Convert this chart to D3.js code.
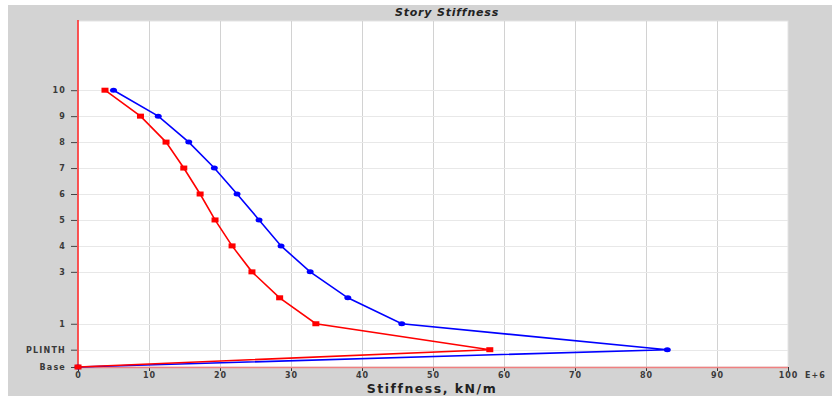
<!DOCTYPE html>
<html><head><meta charset="utf-8">
<script src="https://cdn.jsdelivr.net/npm/d3@7"></script>
<style>body{margin:0;background:#fff;}svg{display:block;}</style>
</head><body>
<svg id="c" width="832" height="396"></svg>
<script>
const levels = ["Base","PLINTH","1","2","3","4","5","6","7","8","9","10"];
const elevations = [0,2,5,8,11,14,17,20,23,26,29,32];
const tickLevels = ["Base","PLINTH","1","3","4","5","6","7","8","9","10"];
const redValues  = [0,58.0,33.5,28.4,24.5,21.7,19.3,17.2,14.9,12.4,8.8,3.8];
const blueValues = [0,83.0,45.6,38.0,32.7,28.6,25.5,22.4,19.2,15.6,11.3,5.0];
const xTicks = [0,10,20,30,40,50,60,70,80,90,100];

const FONT = "DejaVu Sans, Verdana, sans-serif";
const svg = d3.select("#c");
svg.append("rect").attr("x",8).attr("y",5).attr("width",824).attr("height",391).attr("fill","#d3d3d3");

const L=78,R=788,T=21,B=367;
const x = d3.scaleLinear().domain([0,100]).range([L,R]);
const y = d3.scaleLinear().domain([0,40]).range([B,T]);
const elevOf = l => elevations[levels.indexOf(l)];

svg.append("rect").attr("x",L).attr("y",T).attr("width",R-L).attr("height",B-T).attr("fill","#fff").attr("stroke","#e4e4e4");

// grid
svg.append("g").selectAll("line").data(xTicks.slice(1,-1)).join("line")
  .attr("x1",d=>Math.round(x(d))+0.5).attr("x2",d=>Math.round(x(d))+0.5).attr("y1",T).attr("y2",B)
  .attr("stroke","#d2d2d2").attr("stroke-width",1);
svg.append("g").selectAll("line").data(tickLevels.slice(1)).join("line")
  .attr("x1",L).attr("x2",R).attr("y1",d=>Math.round(y(elevOf(d)))+0.5).attr("y2",d=>Math.round(y(elevOf(d)))+0.5)
  .attr("stroke","#e8e8e8").attr("stroke-width",1);

// y axis
const yAxis = d3.axisLeft(y).tickValues(tickLevels.map(elevOf))
  .tickFormat(v=>levels[elevations.indexOf(v)]).tickSize(6).tickPadding(5);
const gy = svg.append("g").attr("transform",`translate(${L-1},0)`).call(yAxis);
gy.select(".domain").remove();
gy.selectAll("line").attr("stroke","#444");
gy.selectAll("text").attr("font-family",FONT).attr("font-size",8).attr("font-weight","bold").attr("fill","#3a3a3a").attr("letter-spacing","1.2px");

// x axis
const xAxis = d3.axisBottom(x).tickValues(xTicks).tickFormat(d=>d).tickSize(4).tickPadding(1);
const gx = svg.append("g").attr("transform",`translate(0,${B})`).call(xAxis);
gx.select(".domain").remove();
gx.selectAll("line").attr("stroke","#333");
gx.selectAll("text").attr("font-family",FONT).attr("font-size",8).attr("font-weight","bold").attr("fill","#3a3a3a").attr("letter-spacing","1px");
svg.append("text").attr("x",805).attr("y",B+5).attr("dy","0.71em").attr("font-family",FONT).attr("font-size",8).attr("font-weight","bold").attr("fill","#3a3a3a").attr("letter-spacing","1px").text("E+6");

svg.append("line").attr("x1",L).attr("x2",R).attr("y1",B+0.5).attr("y2",B+0.5).attr("stroke","#f08080").attr("stroke-width",1.5);
svg.append("line").attr("x1",L).attr("x2",L).attr("y1",T-1).attr("y2",B).attr("stroke","#ff2020").attr("stroke-width",1.5);

// series
const line = d3.line().x(d=>x(d.v)).y(d=>y(d.e));
function series(vals,color,shape){
  const data = vals.map((v,i)=>({v,e:elevations[i]}));
  svg.append("path").datum(data).attr("d",line).attr("fill","none").attr("stroke",color).attr("stroke-width",1.6);
  const g = svg.append("g");
  if(shape==="rect"){
    g.selectAll("rect").data(data).join("rect").attr("x",d=>x(d.v)-3.5).attr("y",d=>y(d.e)-2.5).attr("width",7).attr("height",5).attr("fill",color);
  } else {
    g.selectAll("ellipse").data(data).join("ellipse").attr("cx",d=>x(d.v)).attr("cy",d=>y(d.e)).attr("rx",3.5).attr("ry",2.5).attr("fill",color);
  }
}
series(blueValues,"#0000ff","ellipse");
series(redValues,"#ff0000","rect");

svg.append("text").attr("x",447).attr("y",16).attr("text-anchor","middle")
  .attr("font-family",FONT).attr("font-size",11).attr("font-weight","bold").attr("font-style","italic").attr("fill","#222").attr("letter-spacing","0.8px")
  .text("Story Stiffness");
svg.append("text").attr("x",432).attr("y",392.5).attr("text-anchor","middle")
  .attr("font-family",FONT).attr("font-size",12.5).attr("font-weight","bold").attr("fill","#222").attr("letter-spacing","1.5px")
  .text("Stiffness, kN/m");
</script>
</body></html>
